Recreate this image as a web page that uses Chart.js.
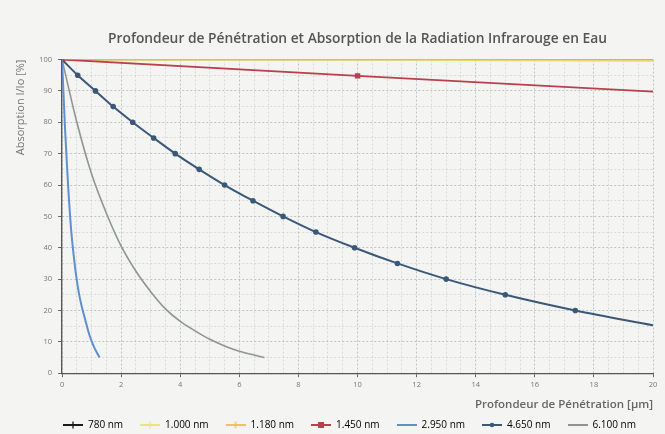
<!DOCTYPE html>
<html lang="fr">
<head>
    <meta charset="UTF-8">
    <title>Profondeur de Pénétration et Absorption</title>
    <script src="https://cdn.jsdelivr.net/npm/chart.js@4"></script>
    <style>
        html, body {
            margin: 0;
            padding: 0;
            background: #f4f4f2;
        }
    </style>
</head>
<body>
    <canvas id="absChart" width="665" height="434"></canvas>

    <script>
        // Longueurs d'onde (légende)
        const labels = ['780 nm', '1.000 nm', '1.180 nm', '1.450 nm', '2.950 nm', '4.650 nm', '6.100 nm'];

        // Profondeur [µm] et absorption I/Io [%]
        const depthFlat = [0, 10, 20];
        const abs780 = [100, 100, 100];
        const abs1000 = [100, 100, 100];
        const abs1180 = [100, 99.9, 99.7];
        const abs1450 = [100, 94.8, 89.8];

        const depth2950 = [0, 0.1, 0.2, 0.3, 0.4, 0.5, 0.6, 0.7, 0.8, 0.9, 1.0, 1.1, 1.2, 1.27];
        const abs2950 = [100, 78, 60.5, 46.5, 37, 29.5, 24, 20, 16.5, 13, 10.2, 8, 6.2, 5];

        const depth4650 = [0, 0.53, 1.13, 1.73, 2.39, 3.1, 3.83, 4.64, 5.5, 6.46, 7.48, 8.59, 9.9, 11.35, 13.0, 15.0, 17.37, 20];
        const abs4650 = [100, 95, 90, 85, 80, 75, 70, 65, 60, 55, 50, 45, 40, 35, 30, 25, 20, 15.3];

        const depth6100 = [0, 0.5, 1, 1.5, 2, 2.5, 3, 3.5, 4, 4.5, 5, 5.5, 6, 6.5, 6.85];
        const abs6100 = [100, 80, 63.5, 51, 40.5, 32.5, 26, 20.5, 16.5, 13.5, 10.8, 8.7, 7, 5.8, 5];

        const colors = ['#1a1a1a', '#e8e67c', '#efc25a', '#b9404c', '#5f8fcf', '#3b5878', '#8f9595'];
        const legendMarks = ['cross', 'cross', 'cross', 'rect', null, 'circle', null];

        function pts(xs, ys) {
            return xs.map((x, i) => ({ x: x, y: ys[i] }));
        }

        // petit symbole ligne + marqueur pour la légende
        function legendIcon(color, mark) {
            const c = document.createElement('canvas');
            c.width = 20;
            c.height = 8;
            const g = c.getContext('2d');
            g.strokeStyle = color;
            g.fillStyle = color;
            g.lineWidth = 2;
            g.beginPath();
            g.moveTo(0, 4);
            g.lineTo(20, 4);
            g.stroke();
            if (mark === 'rect') {
                g.fillRect(7, 1, 6, 6);
            } else if (mark === 'circle') {
                g.beginPath();
                g.arc(10, 4, 2.3, 0, Math.PI * 2);
                g.fill();
            } else if (mark === 'cross') {
                g.lineWidth = 1.3;
                g.beginPath();
                g.moveTo(10, 0.5);
                g.lineTo(10, 7.5);
                g.stroke();
            }
            return c;
        }

        const gridColor = ctx => {
            const v = ctx.tick ? ctx.tick.value : 0;
            return (v % 10 === 0 || (ctx.scale.axis === 'x' && v % 2 === 0)) ? 'rgba(140,150,165,0.5)' : 'rgba(150,160,175,0.3)';
        };

        Chart.defaults.font.family = "'Open Sans', 'Noto Sans', sans-serif";
        Chart.defaults.color = '#777';

        const ctx = document.getElementById('absChart').getContext('2d');
        new Chart(ctx, {
            type: 'line',
            data: {
                datasets: [
                    { label: labels[0], data: pts(depthFlat, abs780), borderColor: colors[0], borderWidth: 1.5, pointRadius: 0, order: 3 },
                    { label: labels[1], data: pts(depthFlat, abs1000), borderColor: colors[1], borderWidth: 2, pointRadius: 0, order: 1 },
                    { label: labels[2], data: pts(depthFlat, abs1180), borderColor: colors[2], borderWidth: 2, pointRadius: 0, order: 2 },
                    { label: labels[3], data: pts(depthFlat, abs1450), borderColor: colors[3], borderWidth: 1.8,
                      pointStyle: 'rect', pointRadius: [0, 2.6, 0], backgroundColor: colors[3], order: 0 },
                    { label: labels[4], data: pts(depth2950, abs2950), borderColor: colors[4], borderWidth: 2,
                      pointRadius: 0, cubicInterpolationMode: 'monotone', order: 0 },
                    { label: labels[5], data: pts(depth4650, abs4650), borderColor: colors[5], borderWidth: 2,
                      pointRadius: ctx => ctx.dataIndex === abs4650.length - 1 ? 0 : 1.8, backgroundColor: colors[5],
                      cubicInterpolationMode: 'monotone', order: 0 },
                    { label: labels[6], data: pts(depth6100, abs6100), borderColor: colors[6], borderWidth: 1.6,
                      pointRadius: 0, cubicInterpolationMode: 'monotone', order: 0 }
                ]
            },
            options: {
                responsive: false,
                animation: false,
                layout: { padding: { left: 14, right: 12, top: 0, bottom: -6 } },
                plugins: {
                    title: {
                        display: true,
                        fullSize: false,
                        text: 'Profondeur de Pénétration et Absorption de la Radiation Infrarouge en Eau',
                        color: '#555',
                        font: { size: 13.8, weight: '600' },
                        padding: { top: 31, bottom: 12 }
                    },
                    legend: {
                        position: 'bottom',
                        align: 'end',
                        labels: {
                            usePointStyle: true,
                            pointStyleWidth: 20,
                            padding: 17,
                            color: '#777',
                            font: { size: 10 },
                            generateLabels: chart => chart.data.datasets.map((ds, i) => ({
                                text: ds.label,
                                pointStyle: legendIcon(ds.borderColor, legendMarks[i]),
                                fillStyle: ds.borderColor,
                                strokeStyle: ds.borderColor,
                                lineWidth: 0,
                                hidden: false,
                                datasetIndex: i
                            }))
                        }
                    },
                    tooltip: { enabled: false }
                },
                scales: {
                    x: {
                        type: 'linear',
                        min: 0,
                        max: 20,
                        ticks: {
                            stepSize: 0.5,
                            autoSkip: false,
                            maxRotation: 0,
                            padding: 3,
                            font: { size: 7.5 },
                            callback: v => (v % 2 === 0 ? v : '')
                        },
                        grid: {
                            color: gridColor,
                            tickLength: 4,
                            tickColor: ctx => (ctx.tick && ctx.tick.value % 2 === 0 ? '#666' : 'rgba(0,0,0,0)')
                        },
                        border: {
                            color: '#555',
                            width: 1.3,
                            dash: ctx => (ctx.tick ? [2, 2] : [])
                        },
                        title: {
                            display: true,
                            text: 'Profondeur de Pénétration [µm]',
                            align: 'end',
                            color: '#666',
                            font: { size: 11.5, weight: '600' },
                            padding: { top: 6, bottom: -9 }
                        }
                    },
                    y: {
                        min: 0,
                        max: 100,
                        ticks: {
                            stepSize: 5,
                            padding: 6,
                            font: { size: 7.5 },
                            callback: v => (v % 10 === 0 ? v : '')
                        },
                        grid: {
                            color: gridColor,
                            tickLength: 4,
                            tickColor: ctx => (ctx.tick && ctx.tick.value % 10 === 0 ? '#666' : 'rgba(0,0,0,0)')
                        },
                        border: {
                            color: '#555',
                            width: 1.3,
                            dash: ctx => (ctx.tick ? [2, 2] : [])
                        },
                        title: {
                            display: true,
                            text: 'Absorption I/Io [%]',
                            align: 'end',
                            color: '#777',
                            font: { size: 11 },
                            padding: { top: 0, bottom: 6 }
                        }
                    }
                }
            }
        });
    </script>
</body>
</html>
